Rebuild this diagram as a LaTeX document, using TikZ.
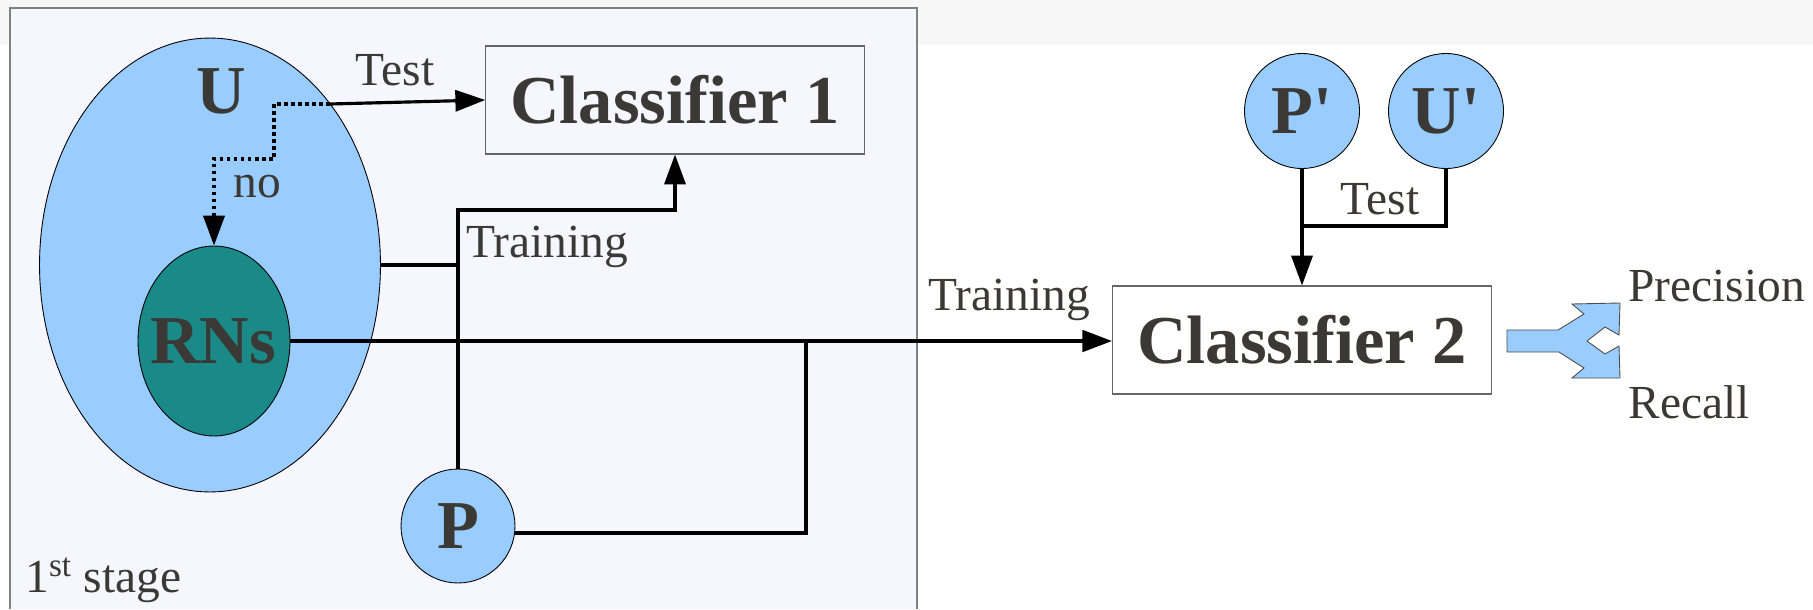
\documentclass[tikz,border=0pt]{standalone}
\usepackage{fontspec}
\setmainfont{Liberation Serif}
\usepackage{tikz}
\usetikzlibrary{arrows,arrows.meta,positioning,shapes.geometric}
\definecolor{setblue}{HTML}{99CCFF}
\definecolor{rnteal}{HTML}{198A87}
\definecolor{stagebg}{HTML}{F5F6FE}
\definecolor{inkgray}{HTML}{3B3935}
\tikzset{dataset/.style={
    % The shape:
    ellipse,
    inner sep=0pt,
    % The border:
    draw=black,
    line width=0.5pt,
    % The filling:
    fill=setblue,
    % Font
    font=\fontsize{39}{46}\selectfont\bfseries,
    text=inkgray
    },
    setname/.style={
    font=\fontsize{39}{46}\selectfont\bfseries,
    text=inkgray,
    inner sep=0pt
    },
    classbox/.style={
    rectangle,
    minimum width=7.57cm,
    minimum height=2.16cm,
    draw=black!60,
    line width=0.6pt,
    font=\fontsize{39}{46}\selectfont\bfseries,
    text=inkgray
    },
    flowlabel/.style={
    font=\fontsize{27}{32}\selectfont,
    text=inkgray,
    inner sep=0pt
    },
    wire/.style={line width=1.8pt},
    guess/.style={line width=2pt, dash pattern=on 2pt off 2pt},
}

\begin{document}
\begin{tikzpicture}[x=0.02cm, y=-0.02cm, >={Triangle[length=17pt,width=12pt]}]
    \useasboundingbox (0,0) rectangle (1813,609);
    % page band and the first stage frame
    \fill[black!3] (0,0) rectangle (1813,45);
    \fill[stagebg] (10,8) rectangle (917,609);
    \draw[black!50, line width=0.6pt] (10,609) -- (10,8) -- (917,8) -- (917,609);

    \node (U)      [dataset, minimum width=6.82cm, minimum height=9.08cm] at (210,265) {};
    \node (Uname)  [setname] at (221,91) {U};
    \node (rns)    [dataset, fill=rnteal, minimum width=3.04cm, minimum height=3.8cm] at (214,341) {};
    \node (rnsname)[setname] at (213,341) {RNs};
    \node (P)      [dataset, minimum size=2.28cm] at (458,526) {P};

    \node (c1)     [classbox] at (675,100) {Classifier 1};
    \node (c2)     [classbox, fill=white] at (1302,340) {Classifier 2};
    \node (pp)     [dataset, minimum size=2.3cm] at (1302,111) {P\textquotesingle};
    \node (up)     [dataset, minimum size=2.3cm] at (1446,111) {U\textquotesingle};

    \node (testA)  [flowlabel] at (395,70) {Test};
    \node (no)     [flowlabel] at (257,187) {no};
    \node (trainA) [flowlabel, anchor=west] at (466,247) {Training};
    \node (trainB) [flowlabel, anchor=west] at (928,300) {Training};
    \node (testB)  [flowlabel] at (1380,199) {Test};
    \node (prec)   [flowlabel, anchor=west] at (1628,286) {Precision};
    \node (rec)    [flowlabel, anchor=west] at (1628,402) {Recall};
    \node (stage)  [flowlabel, anchor=base west] at (25,592) {1\textsuperscript{st} stage};

    % test set out of U, the rest goes down to RNs
    \coordinate (utest) at (330,104);
    \draw[wire, ->] (utest) -- (c1.west);
    \draw[guess, ->] (utest) -- (274,104) -- (274,159) -| (rns.north);

    % training for the first classifier
    \draw[wire] (U.east) -- (U.east -| P.north);
    \draw[wire, ->] (P.north) -- (458,210) -| (c1.south);

    % training for the second classifier
    \coordinate (join) at (806,341);
    \draw[wire] (rns.east) -- (join);
    \draw[wire] (P.-7) -| (join);
    \draw[line width=2.7pt, ->] (join) -- (join -| c2.west);

    % test sets for the second classifier
    \coordinate (testjoin) at (1302,226);
    \draw[wire, ->] (pp.south) -- (c2.north);
    \draw[wire] (up.south) |- (testjoin);

    % split arrow to the measures
    \filldraw[fill=setblue, draw=black!70, line width=0.5pt]
        (1507,330) -- (1558,330) -- (1584,314) -- (1572,304) -- (1620,303)
        -- (1619,335) -- (1605,327) -- (1587,341) -- (1605,354) -- (1619,346)
        -- (1620,378) -- (1572,378) -- (1584,368) -- (1559,352) -- (1507,352) -- cycle;
\end{tikzpicture}
\end{document}
